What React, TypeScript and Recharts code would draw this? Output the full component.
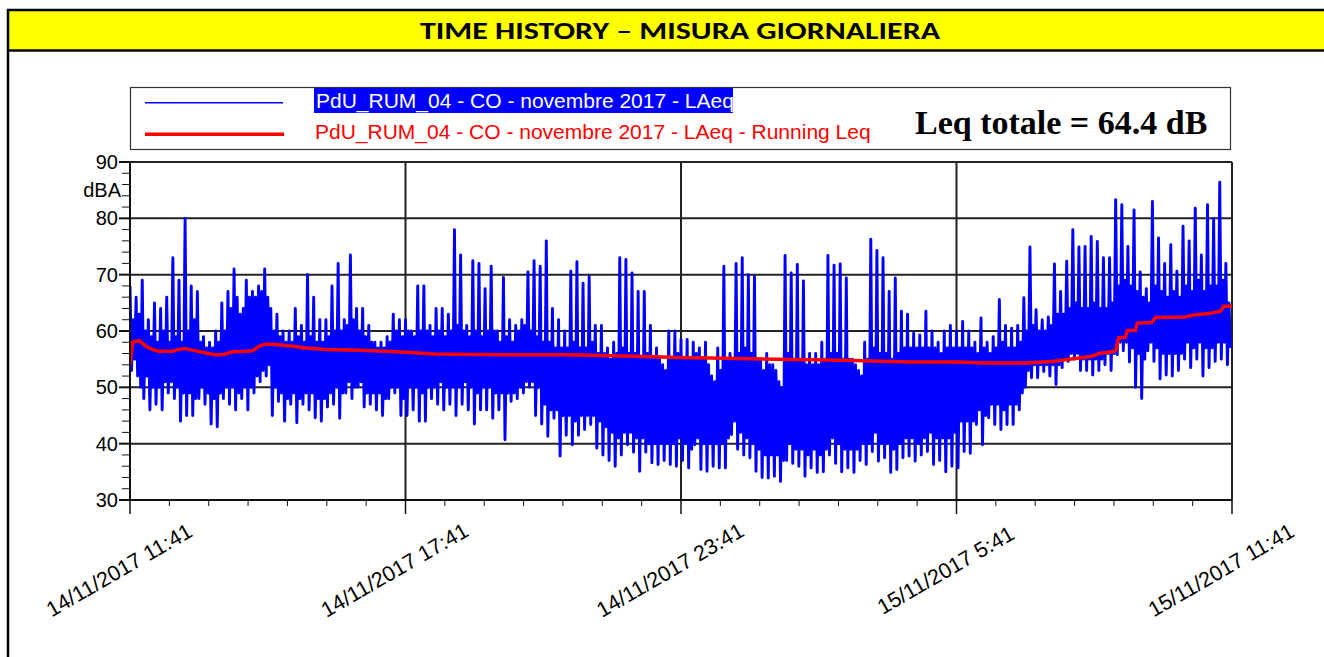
import React from 'react'
import { LineChart, Line, XAxis, YAxis, CartesianGrid } from 'recharts'

const xTickLabels = ['14/11/2017 11:41', '14/11/2017 17:41', '14/11/2017 23:41', '15/11/2017 5:41', '15/11/2017 11:41']
const majorMinutes = [0, 360, 720, 1080, 1440]
const yTicks = [30, 32, 34, 36, 38, 40, 42, 44, 46, 48, 50, 52, 54, 56, 58, 60, 62, 64, 66, 68, 70, 72, 74, 76, 78, 80, 82, 84, 86, 88, 90]
const yGrid = [40, 50, 60, 70, 80, 90]

// LAeq (dBA), one reading every 2 minutes, one array per 6 hours
const SAMPLE_MIN = 2
const laeqA = [ // 11:41 - 17:41
  68, 53, 62, 55, 66, 52, 63, 50, 69, 48, 60, 52, 62, 46, 59, 50,
  65, 47, 58, 50, 64, 46, 60, 51, 66, 49, 58, 51, 73, 48, 59, 50,
  69, 44, 58, 49, 80, 45, 60, 49, 68, 45, 62, 48, 67, 48, 58, 50,
  59, 47, 57, 49, 58, 43.5, 57, 48, 60, 43, 58, 49, 65, 48, 60, 50,
  67, 47, 64, 50, 71, 46, 66, 49, 63, 48, 64, 50, 69, 46, 66, 50,
  67, 49, 66, 52, 68, 51, 67, 53, 71, 52, 66, 54, 64, 45, 60, 50,
  63, 47.5, 59, 49, 60, 44, 58, 48, 60, 47, 58, 49, 64, 43.7, 59, 48,
  61, 47, 58, 49, 70, 46, 59, 49, 66, 44.6, 58, 48, 62, 44, 58, 48,
  62, 46.5, 59, 49, 68, 47, 60, 50, 72, 44.5, 60, 49, 62, 49, 61, 51,
  73.5, 48, 62, 50, 64, 50, 60, 51, 64, 46.5, 59, 49, 61, 47, 58, 49,
  58, 46, 57, 49, 58, 45, 57, 48, 59, 48, 58, 50, 63, 49, 60, 50,
  62, 45, 59, 48,
]
const laeqB = [ // 17:41 - 23:41
  62, 45, 60, 50, 60, 46, 59, 50, 68, 44, 60, 49, 68, 44, 60, 50,
  61, 48, 59, 50, 64, 47, 60, 51, 64, 46, 59, 50, 63, 47, 60, 50,
  78, 45, 61, 50, 73.5, 47, 60, 51, 61, 46, 59, 50, 72.5, 43.5, 60, 49,
  72, 46, 59, 50, 67.5, 46, 60, 50, 71.5, 44.5, 60, 49, 60, 46, 58, 49,
  69.5, 40.7, 59, 49, 62, 47.5, 58, 49, 61, 48, 60, 50, 62, 49, 61, 51,
  70.5, 50, 60, 51, 72.5, 45, 59, 50, 71.5, 43.5, 58, 47, 76, 41.3, 58, 46,
  64, 44.5, 57, 46, 62, 37.8, 57, 45, 60, 41.5, 57, 45, 70.6, 39.8, 58, 44,
  72.3, 41.5, 57, 45, 68.5, 42.5, 57, 45, 69.7, 43.4, 58, 45, 61, 39.2, 56, 44,
  61, 38, 56, 43, 57, 37, 55, 42, 58, 36, 56, 41, 73, 38, 57, 42,
  72.7, 39.8, 56, 42, 70.3, 38.5, 56, 41, 67, 35.1, 55, 41, 67, 38.5, 56, 40,
  61, 36.6, 55, 40, 57, 36.3, 55, 40, 54, 37, 53, 40, 60, 36.3, 55, 40,
  60, 36, 56, 41,
]
const laeqC = [ // 23:41 - 5:41
  58.5, 37, 55, 40, 58.5, 35.7, 55, 39, 58, 39.8, 56, 41, 57, 35.4, 55, 40,
  58, 35.1, 54, 40, 52, 36, 51, 40, 57, 35.7, 53, 40, 71.5, 35.7, 55, 41,
  56, 41.6, 55, 44, 72, 39, 56, 42, 73, 38, 57, 41, 70, 37.5, 56, 40,
  69.7, 35.1, 55, 39, 55, 34, 53, 38, 56, 33.9, 54, 38, 54, 34.2, 53, 38,
  51, 33.3, 50, 37, 73.4, 37, 56, 40, 70.3, 36.5, 55, 39, 71.8, 36, 55, 39,
  68.9, 34.2, 54, 38, 56, 35.7, 54, 39, 56, 34.9, 54, 38, 58, 35, 55, 39,
  73.4, 38, 56, 41, 71.7, 36.5, 56, 40, 71.9, 35, 55, 39, 69.4, 35.7, 55, 39,
  55, 34.9, 54, 39, 53, 37, 52, 40, 58, 36.3, 55, 40, 76.3, 38.6, 57, 42,
  74.3, 36.9, 56, 40, 73, 37.5, 56, 40, 67, 34.9, 55, 39, 69.4, 35.4, 56, 40,
  63.5, 37.5, 57, 41, 63, 37.8, 57, 41, 59.6, 36.9, 57, 40, 59.3, 38, 57, 41,
  63.5, 38.6, 57, 42, 60, 36.3, 57, 41, 58, 37, 56, 41, 60, 35, 57, 41,
  61, 36, 57, 42,
]
const laeqD = [ // 5:41 - 11:41
  60, 35.7, 57, 44, 61.7, 38.6, 57, 44, 60, 38.3, 57, 44, 58, 43.4, 56, 46,
  62.3, 39.8, 57, 45, 58, 44.6, 56, 47, 59, 43.4, 57, 47, 65.6, 42.5, 58, 46,
  61, 43.4, 57, 47, 60.5, 43.4, 57, 47, 61, 46, 58, 49, 65.9, 50, 60, 53,
  74.9, 51.7, 61, 54, 63.8, 51.7, 60, 54, 62, 52.8, 60, 54, 62.5, 52, 61, 54,
  71.9, 50.5, 63, 54, 67, 53.5, 63, 55, 72.4, 54.6, 64, 56, 78, 55, 65, 56,
  74.9, 53, 64, 55, 75, 53, 64, 55, 76.8, 52.2, 65, 55, 75.9, 53, 64, 55,
  73, 54, 64, 56, 73, 53, 65, 56, 83.3, 55.8, 68, 58, 82.4, 56.5, 69, 58,
  75, 54.5, 68, 57, 81.5, 50, 67, 56, 70.5, 48, 66, 55, 67.5, 56.5, 65, 58,
  83, 54.6, 68, 57, 76.5, 51.5, 67, 56, 72, 52.2, 66, 56, 75.3, 52, 67, 56,
  70.6, 53, 66, 56, 78.6, 55, 68, 58, 76, 53.5, 67, 57, 81.8, 55, 69, 58,
  73.5, 52, 67, 57, 82.4, 53.5, 68, 57, 80, 54.6, 68, 58, 86.4, 55, 69, 58,
  72, 54, 65, 57,
]

// Running Leq: minutes from 11:41 and value
const runTimes = [0, 3.5, 12, 21, 30, 38, 56, 60, 71, 82, 99, 112, 121, 134, 152, 160, 169, 178, 191, 213,
  230, 256, 300, 335, 367, 398, 485, 572, 659, 720, 758, 845, 933, 1020, 1081, 1118, 1170, 1205, 1222, 1240,
  1257, 1266, 1283, 1288, 1292, 1301, 1303, 1314, 1316, 1335, 1340, 1379, 1392, 1410, 1425, 1429, 1440]
const runLeq = [54, 58, 58.3, 57.3, 56.7, 56.4, 56.4, 56.6, 56.9, 56.6, 56.1, 55.8, 55.8, 56.3, 56.4, 56.5, 57.3, 57.7, 57.6, 57.3,
  57, 56.7, 56.6, 56.4, 56.2, 55.9, 55.8, 55.8, 55.5, 55.3, 55.2, 55.0, 54.8, 54.5, 54.5, 54.3, 54.3, 54.6, 54.9, 55.2,
  55.5, 56.0, 56.3, 56.5, 58.8, 58.9, 60.1, 60.1, 61.4, 61.5, 62.4, 62.5, 62.9, 63.1, 63.5, 64.4, 64.4]

const laeqData = [laeqA, laeqB, laeqC, laeqD].flatMap((seg, s) =>
  seg.map((v, i) => ({ t: s * 360 + i * SAMPLE_MIN, v })))
const runData = runTimes.map((t, i) => ({ t, v: runLeq[i] }))

// 7 minor divisions between labelled ticks, as in the original software
const xTicks = majorMinutes.slice(0, -1)
  .flatMap(m => Array.from({ length: 7 }, (_, k) => m + (k * 360) / 7))
  .concat(1440)

const SANS = "'Liberation Sans', Arial, sans-serif"

function XTick(props: any) {
  const { x, y, payload } = props
  const k = majorMinutes.findIndex(m => Math.abs(m - payload.value) < 0.01)
  const major = k >= 0
  const cx = x - 11
  const cy = y + 70
  return (
    <g>
      <line x1={x} y1={y} x2={x} y2={y + (major ? 14 : 6)} stroke="#111" strokeWidth={major ? 1.5 : 1} />
      {major && (
        <text x={cx} y={cy} dy="0.35em" textAnchor="middle" transform={`rotate(-30 ${cx} ${cy})`}
          fontSize={21.5} fontFamily={SANS} fill="#000">
          {xTickLabels[k]}
        </text>
      )}
    </g>
  )
}

function YTick(props: any) {
  const { x, y, payload } = props
  const major = payload.value % 10 === 0
  return (
    <g>
      <line x1={x - (major ? 11 : 8)} y1={y} x2={x} y2={y} stroke="#111" strokeWidth={major ? 2 : 1} />
      {major && (
        <text x={x - 12} y={y} dy="0.35em" textAnchor="end" fontSize={20} fontFamily={SANS} fill="#000">
          {payload.value}
        </text>
      )}
    </g>
  )
}

export default function App() {
  return (
    <div style={{ position: 'absolute', left: 0, top: 0, width: 1324, height: 657, background: '#fff', overflow: 'hidden' }}>
      <svg width={1324} height={657} style={{ position: 'absolute', left: 0, top: 0 }}>
        <rect x={8} y={10} width={1345} height={41} fill="#ffff00" />
        <rect x={8} y={10} width={1345} height={700} fill="none" stroke="#000" strokeWidth={2.5} />
        <line x1={8} y1={50.5} x2={1353} y2={50.5} stroke="#000" strokeWidth={2.5} />
        <text x={680} y={39} textAnchor="middle" fontSize={25} fontWeight="bold"
          fontFamily="Carlito, Lato, 'Open Sans', sans-serif" textLength={520} lengthAdjust="spacingAndGlyphs">
          TIME HISTORY – MISURA GIORNALIERA
        </text>

        <rect x={130.5} y={87.5} width={1100} height={62} fill="#fff" stroke="#333" strokeWidth={1.2} />
        <line x1={145} y1={102.7} x2={283} y2={102.7} stroke="#0000ff" strokeWidth={1.5} />
        <line x1={145} y1={134.3} x2={284} y2={134.3} stroke="#ff0000" strokeWidth={3.5} />
        <rect x={314} y={88} width={419} height={25} fill="#0000ff" />
        <text x={316} y={108.3} fontSize={21} fontFamily={SANS} fill="#fff">
          PdU_RUM_04 - CO - novembre 2017 - LAeq
        </text>
        <text x={315} y={139} fontSize={21} fontFamily={SANS} fill="#ff0000">
          PdU_RUM_04 - CO - novembre 2017 - LAeq - Running Leq
        </text>
        <text x={915} y={134} fontSize={34} fontWeight="bold" fontFamily="'Liberation Serif', 'Times New Roman', serif" fill="#000">
          Leq totale = 64.4 dB
        </text>

        <text x={121} y={197} textAnchor="end" fontSize={20} fontFamily={SANS} fill="#000">dBA</text>
      </svg>

      <div style={{ position: 'absolute', left: 0, top: 0 }}>
        <LineChart width={1324} height={657} margin={{ top: 162, right: 92, bottom: 0, left: 0 }}>
          <CartesianGrid
            stroke="#222"
            strokeWidth={2}
            horizontalValues={yGrid}
            verticalValues={majorMinutes.slice(1)}
          />
          <XAxis
            dataKey="t"
            type="number"
            domain={[0, 1440]}
            ticks={xTicks}
            interval={0}
            height={157}
            tickSize={0}
            tickMargin={0}
            tickLine={false}
            axisLine={{ stroke: '#111', strokeWidth: 2 }}
            tick={<XTick />}
            allowDataOverflow
          />
          <YAxis
            type="number"
            domain={[30, 90]}
            ticks={yTicks}
            interval={0}
            width={130}
            tickSize={0}
            tickMargin={0}
            tickLine={false}
            axisLine={{ stroke: '#111', strokeWidth: 2 }}
            tick={<YTick />}
            allowDataOverflow
          />
          <Line data={laeqData} dataKey="v" type="linear" stroke="#0000ff" strokeWidth={2.9}
            strokeLinejoin="round" dot={false} activeDot={false} isAnimationActive={false} />
          <Line data={runData} dataKey="v" type="linear" stroke="#ff0000" strokeWidth={3.5}
            dot={false} activeDot={false} isAnimationActive={false} />
        </LineChart>
      </div>
    </div>
  )
}
